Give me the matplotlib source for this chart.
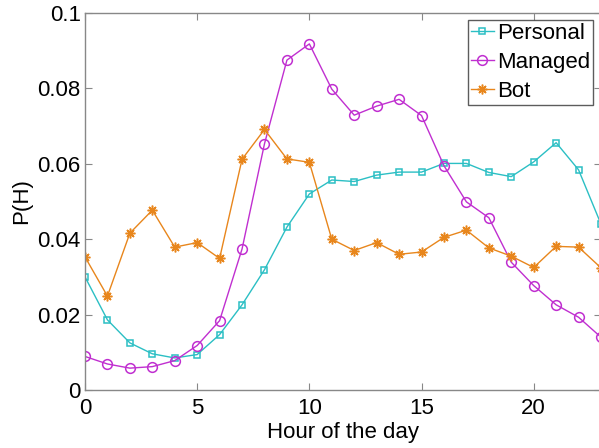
import matplotlib
matplotlib.use('Agg')
import matplotlib.pyplot as plt

plt.rcParams['font.family'] = ['Liberation Sans', 'DejaVu Sans']

# Dados
horas = list(range(24))
personal = [0.0300, 0.0186, 0.0125, 0.0096, 0.0085, 0.0094, 0.0147, 0.0226,
            0.0319, 0.0432, 0.0520, 0.0557, 0.0553, 0.0570, 0.0578, 0.0578,
            0.0601, 0.0601, 0.0577, 0.0566, 0.0605, 0.0656, 0.0584, 0.0440]
managed = [0.0089, 0.0069, 0.0058, 0.0062, 0.0078, 0.0118, 0.0184, 0.0374,
           0.0653, 0.0875, 0.0918, 0.0798, 0.0729, 0.0753, 0.0771, 0.0728,
           0.0595, 0.0499, 0.0457, 0.0339, 0.0277, 0.0226, 0.0193, 0.0140]
bot = [0.0353, 0.0249, 0.0416, 0.0477, 0.0379, 0.0391, 0.0349, 0.0612,
       0.0691, 0.0613, 0.0604, 0.0400, 0.0370, 0.0391, 0.0360, 0.0366,
       0.0405, 0.0424, 0.0377, 0.0355, 0.0325, 0.0381, 0.0379, 0.0324]

cor_personal = '#2bbfc4'
cor_managed = '#c02fd0'
cor_bot = '#e8861c'

fig = plt.figure(figsize=(5.99, 4.48), dpi=100)
ax = fig.add_axes([85 / 599, 1 - 390 / 448, 516 / 599, 377 / 448])

ax.plot(horas, personal, color=cor_personal, marker='s', markersize=5,
        markerfacecolor='none', markeredgewidth=1.1, linewidth=1.0, label='Personal')
ax.plot(horas, managed, color=cor_managed, marker='o', markersize=7,
        markerfacecolor='none', markeredgewidth=1.1, linewidth=1.0, label='Managed')
# asterisco de 8 pontas, como o '*' do MATLAB
ax.plot(horas, bot, color=cor_bot, marker=(8, 2, 0), markersize=7,
        markeredgewidth=1.1, linewidth=1.0, label='Bot')

ax.set_xlim(0, 23)
ax.set_ylim(0, 0.1)
ax.set_xticks([0, 5, 10, 15, 20])
ax.set_yticks([0, 0.02, 0.04, 0.06, 0.08, 0.1])
ax.set_yticklabels(['0', '0.02', '0.04', '0.06', '0.08', '0.1'])

for s in ax.spines.values():
    s.set_color('#888888')
    s.set_linewidth(1.0)
ax.tick_params(direction='in', length=5, color='#888888', labelsize=16,
               top=True, right=True)
ax.tick_params(axis='x', pad=6)
ax.tick_params(axis='y', pad=3)

ax.set_xlabel('Hour of the day', fontsize=16, labelpad=2)
ax.set_ylabel('P(H)', fontsize=16, labelpad=4)

leg = ax.legend(loc='upper right', fontsize=16, handlelength=1.0,
                handletextpad=0.15, borderpad=0.15, labelspacing=0.35,
                fancybox=False, borderaxespad=0.3, bbox_to_anchor=(0.998, 1.0))
leg.get_frame().set_edgecolor('#333333')
leg.get_frame().set_linewidth(1.0)

plt.savefig('out.png', dpi=100)
